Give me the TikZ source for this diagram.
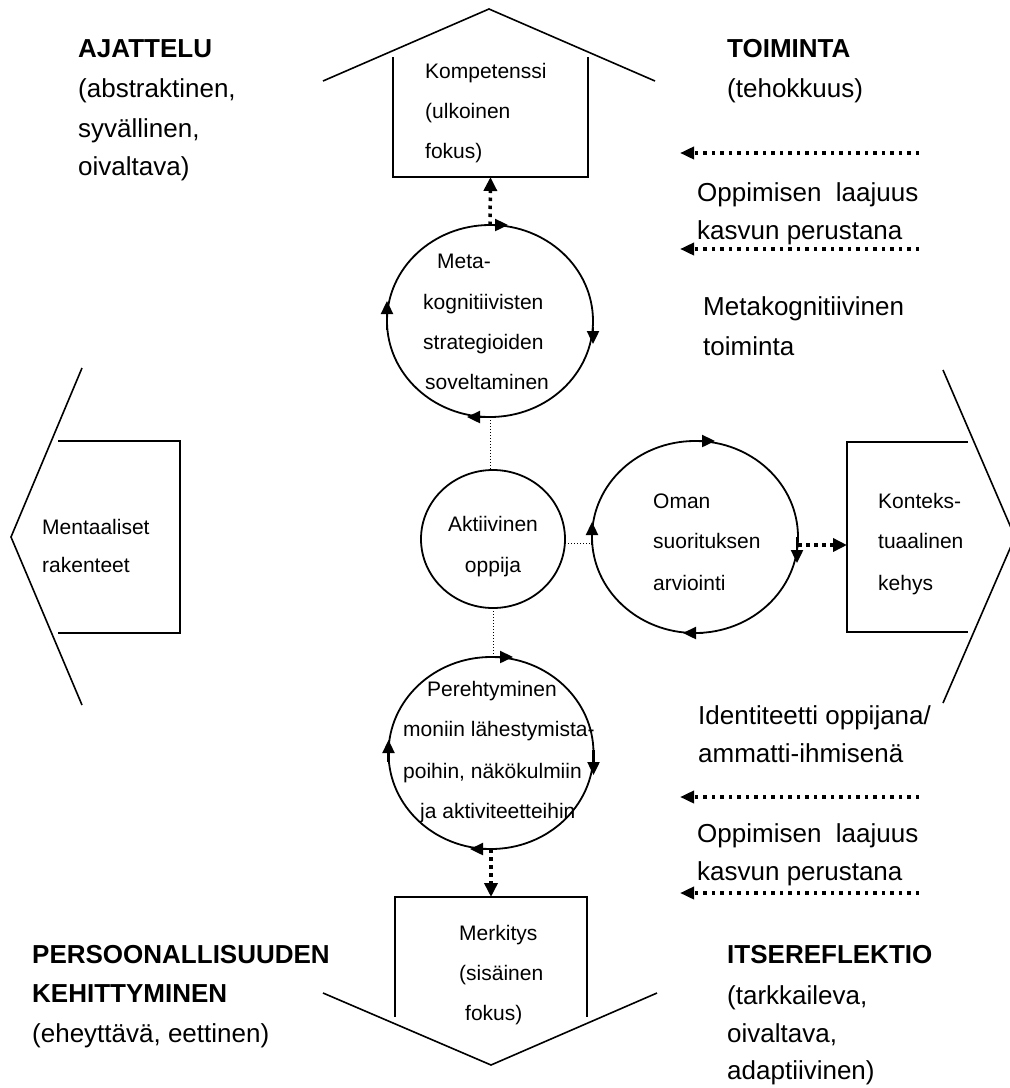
\documentclass[tikz,border=0pt]{standalone}
\usepackage{fontspec}
\setmainfont{Liberation Sans}
\usetikzlibrary{arrows.meta,shapes.geometric}
\begin{document}
\begin{tikzpicture}[x=1pt,y=-1pt,
  big/.style={font=\fontsize{26}{30}\selectfont, inner sep=0pt, anchor=base west},
  bigb/.style={font=\fontsize{26}{30}\selectfont\bfseries, inner sep=0pt, anchor=base west},
  small/.style={font=\fontsize{21}{25}\selectfont, inner sep=0pt, anchor=base west},
  smallc/.style={font=\fontsize{21}{25}\selectfont, inner sep=0pt, anchor=base},
  frame/.style={line width=1.8pt},
  chev/.style={line width=1.6pt},
  boxnode/.style={rectangle, draw=none, inner sep=0pt, outer sep=0pt},
  ring/.style={ellipse, draw, line width=1.8pt, inner sep=0pt, outer sep=0pt},
  ctip/.style={line width=2.4pt, -{Triangle[length=13pt,width=12pt]}},
  thickdot/.style={line width=3.5pt, dash pattern=on 3.5pt off 4.5pt, -{Triangle[length=14pt,width=13pt]}},
  hdot/.style={line width=3.5pt, dash pattern=on 3.5pt off 5pt, -{Triangle[length=14pt,width=12pt]}},
  thindot/.style={line width=1pt, dash pattern=on 1pt off 2pt}
]
\useasboundingbox (0,0) rectangle (1010,1088);
\clip (0,0) rectangle (1010,1088);

% chevrons / roofs
\draw[chev] (323,81) -- (489,9) -- (655,81);
\draw[chev] (323,993) -- (491,1065) -- (657,993);
\draw[chev] (82,368) -- (11,537) -- (82,705);
\draw[chev] (943,370) -- (1015,537) -- (943,703);

% boxes
\node[boxnode, minimum width=195pt, minimum height=120pt] (komp) at (490.5,117) {};
\draw[frame] (komp.north west) -- (komp.south west) -- (komp.south east) -- (komp.north east);
\node[boxnode, minimum width=192pt, minimum height=120pt] (merk) at (491,957) {};
\draw[frame] (merk.south west) -- (merk.north west) -- (merk.north east) -- (merk.south east);
\node[boxnode, minimum width=122pt, minimum height=192pt] (ment) at (119,537) {};
\draw[frame] (ment.north west) -- (ment.north east) -- (ment.south east) -- (ment.south west);
\node[boxnode, minimum width=121pt, minimum height=190pt] (kont) at (907.5,537) {};
\draw[frame] (kont.north east) -- (kont.north west) -- (kont.south west) -- (kont.south east);

% rings
\node[ring, minimum width=206pt, minimum height=192pt] (meta) at (490,321) {};
\node[ring, minimum width=144pt, minimum height=138pt] (akt) at (493,539) {};
\node[ring, minimum width=206pt, minimum height=192pt] (oman) at (695,537) {};
\node[ring, minimum width=205pt, minimum height=192pt] (pere) at (491,753) {};

% ring arrows
\draw[ctip] ([xshift=-2pt]meta.north) -- ++(20,0);
\draw[ctip] ([yshift=-6pt]meta.east) -- ++(0,17);
\draw[ctip] (meta.south) -- ++(-23,0);
\draw[ctip] ([yshift=-9pt]meta.west) -- ++(0,-29);

\draw[ctip] ([xshift=-2pt]oman.north) -- ++(22,0);
\draw[ctip] ([xshift=-1pt]oman.east) -- ++(0,26);
\draw[ctip] ([xshift=8pt]oman.south) -- ++(-20,0);
\draw[ctip] ([yshift=-8pt]oman.west) -- ++(0,-23);

\draw[ctip] ([xshift=-1pt]pere.north) -- ++(23,0);
\draw[ctip] ([yshift=3pt]pere.east) -- ++(0,25);
\draw[ctip] ([xshift=2pt]pere.south) -- ++(-23,0);
\draw[ctip] ([yshift=-9pt]pere.west) -- ++(0,-22);

% connectors
\draw[thickdot] (meta.north) -- (komp.south);
\draw[thindot] (meta.south) -- (meta.south |- akt.north);
\draw[thindot] ([yshift=-4pt]akt.east) -- ([yshift=-4pt]akt.east -| oman.west);
\draw[thindot] (akt.south) -- (akt.south |- pere.north);
\draw[thickdot] ([yshift=-8pt]oman.east) -- ([yshift=-8pt]kont.west);
\draw[thickdot] (pere.south) -- (merk.north);

% right-side dotted arrows
\coordinate (h1s) at (919,153); \coordinate (h1e) at (680,153);
\coordinate (h2s) at (919,249); \coordinate (h2e) at (680,249);
\coordinate (h3s) at (919,797); \coordinate (h3e) at (680,797);
\coordinate (h4s) at (919,893); \coordinate (h4e) at (680,893);
\draw[hdot] (h1s) -- (h1e);
\draw[hdot] (h2s) -- (h2e);
\draw[hdot] (h3s) -- (h3e);
\draw[hdot] (h4s) -- (h4e);

% box texts
\node[small] (k1) at (425,78) {Kompetenssi};
\node[small] (k2) at (425,118) {(ulkoinen};
\node[small] (k3) at (425,158) {fokus)};

\node[small] (m1) at (459,940) {Merkitys};
\node[small] (m2) at (459,980) {(sisäinen};
\node[small] (m3) at (465,1020) {fokus)};

\node[small] (ml1) at (42,534) {Mentaaliset};
\node[small] (ml2) at (42,572) {rakenteet};

\node[small] (ko1) at (878,508) {Konteks-};
\node[small] (ko2) at (878,548) {tuaalinen};
\node[small] (ko3) at (878,590) {kehys};

% ring texts
\node[small] (mt1) at (437,268) {Meta-};
\node[small] (mt2) at (423,309) {kognitiivisten};
\node[small] (mt3) at (423,349) {strategioiden};
\node[small] (mt4) at (425,389) {soveltaminen};

\node[smallc] (a1) at (493,531) {Aktiivinen};
\node[smallc] (a2) at (493,572) {oppija};

\node[small] (o1) at (653,508) {Oman};
\node[small] (o2) at (653,548) {suorituksen};
\node[small] (o3) at (653,590) {arviointi};

\node[small] (p1) at (427,696) {Perehtyminen};
\node[small] (p2) at (403,736) {moniin lähestymista-};
\node[small] (p3) at (403,778) {poihin, näkökulmiin};
\node[small] (p4) at (420,818) {ja aktiviteetteihin};

% corner texts
\node[bigb] (aj1) at (78,57) {AJATTELU};
\node[big] (aj2) at (78,97) {(abstraktinen,};
\node[big] (aj3) at (78,137) {syvällinen,};
\node[big] (aj4) at (78,175) {oivaltava)};

\node[bigb] (to1) at (727,57) {TOIMINTA};
\node[big] (to2) at (727,97) {(tehokkuus)};

\node[big] (op1) at (697,201) {Oppimisen\ \ laajuus};
\node[big] (op2) at (697,239) {kasvun perustana};

\node[big] (mk1) at (703,315) {Metakognitiivinen};
\node[big] (mk2) at (703,355) {toiminta};

\node[big] (id1) at (698,724) {Identiteetti oppijana/};
\node[big] (id2) at (698,762) {ammatti-ihmisenä};

\node[big] (op3) at (697,842) {Oppimisen\ \ laajuus};
\node[big] (op4) at (697,880) {kasvun perustana};

\node[bigb] (pe1) at (32,963) {PERSOONALLISUUDEN};
\node[bigb] (pe2) at (32,1002) {KEHITTYMINEN};
\node[big] (pe3) at (32,1042) {(eheyttävä, eettinen)};

\node[bigb] (it1) at (727,963) {ITSEREFLEKTIO};
\node[big] (it2) at (727,1004) {(tarkkaileva,};
\node[big] (it3) at (727,1042) {oivaltava,};
\node[big] (it4) at (727,1079) {adaptiivinen)};
\end{tikzpicture}
\end{document}
